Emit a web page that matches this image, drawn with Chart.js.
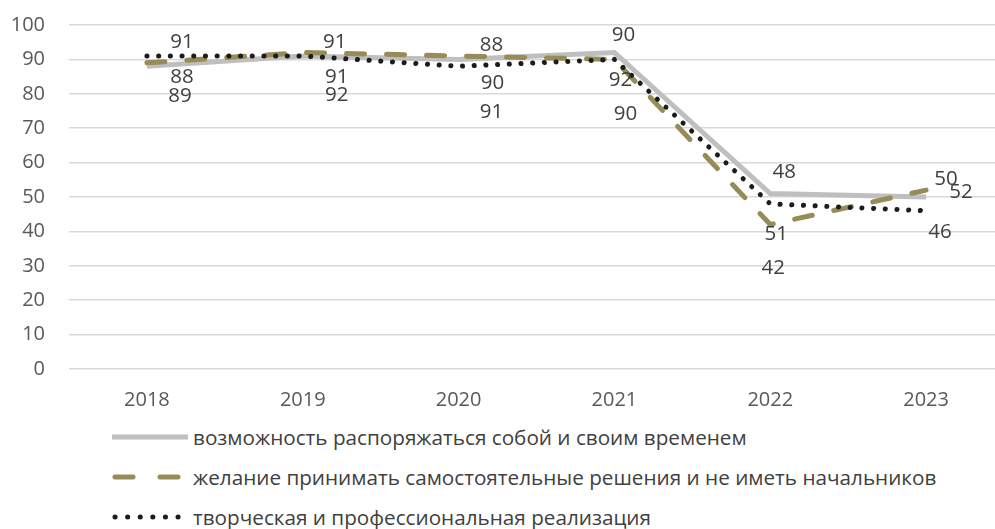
<!DOCTYPE html>
<html lang="ru">
<head>
<meta charset="utf-8">
<script src="https://cdn.jsdelivr.net/npm/chart.js@4"></script>
<style>
  html, body { margin: 0; padding: 0; background: #fff; overflow: hidden; }
  #wrap { position: relative; width: 995px; height: 529px; overflow: hidden; }
  #chart { position: absolute; left: 0; top: 0; }
  .legend-row { position: absolute; left: 112px; height: 30px; display: flex; align-items: center;
    font-family: "Open Sans", sans-serif; font-size: 20.7px; color: #404040; white-space: nowrap; }
  .legend-row svg { width: 76px; height: 10px; margin-right: 5px; }
</style>
</head>
<body>
<div id="wrap">
  <canvas id="chart" width="1010" height="420"></canvas>
  <div class="legend-row" style="top:422px">
    <svg viewBox="0 0 76 10"><line x1="0" y1="5" x2="76" y2="5" stroke="#BFBFBF" stroke-width="5"/></svg>
    <span id="lg0"></span>
  </div>
  <div class="legend-row" style="top:462px">
    <svg viewBox="0 0 76 10"><line x1="3" y1="5" x2="76" y2="5" stroke="#968C58" stroke-width="5" stroke-linecap="round" stroke-dasharray="18 27"/></svg>
    <span id="lg1"></span>
  </div>
  <div class="legend-row" style="top:502px">
    <svg viewBox="0 0 76 10"><line x1="3" y1="5" x2="76" y2="5" stroke="#1C1C1C" stroke-width="5" stroke-linecap="round" stroke-dasharray="0.1 12.5"/></svg>
    <span id="lg2"></span>
  </div>
</div>
<script>
// данные графика
const years = ['2018', '2019', '2020', '2021', '2022', '2023'];
const seriesNames = [
    'возможность распоряжаться собой и своим временем',
    'желание принимать самостоятельные решения и не иметь начальников',
    'творческая и профессиональная реализация'
];
const selfTime = [88, 91, 90, 92, 51, 50];
const independence = [89, 92, 91, 90, 42, 52];
const creative = [91, 91, 88, 90, 48, 46];
const yTicks = [0, 10, 20, 30, 40, 50, 60, 70, 80, 90, 100];

// смещения подписей относительно точек (оформление)
const labelShift = [
    [[35, 11], [34, 21], [34, 24], [6, 28], [6, 41], [20, -18]],
    [[33, 33], [34, 43], [33, 56], [11, 55], [3, 44], [35, 2]],
    [[35, -14], [32, -14], [33, -21], [9, -24], [14, -32], [14, 21]]
];

seriesNames.forEach((name, i) => {
    document.getElementById('lg' + i).textContent = name;
});

// подписи данных
const valueLabels = {
    id: 'valueLabels',
    afterDatasetsDraw(chart) {
        const ctx = chart.ctx;
        ctx.save();
        ctx.font = '20.5px "Open Sans", sans-serif';
        ctx.fillStyle = '#404040';
        ctx.textAlign = 'center';
        ctx.textBaseline = 'middle';
        chart.data.datasets.forEach((ds, i) => {
            const meta = chart.getDatasetMeta(i);
            meta.data.forEach((pt, j) => {
                const off = labelShift[i][j];
                ctx.fillText(String(ds.data[j]), pt.x + off[0], pt.y + off[1]);
            });
        });
        ctx.restore();
    }
};

new Chart(document.getElementById('chart').getContext('2d'), {
    type: 'line',
    data: {
        labels: years,
        datasets: [
            {
                label: seriesNames[0],
                data: selfTime,
                borderColor: '#BFBFBF',
                borderWidth: 5,
                pointRadius: 0,
                tension: 0,
                order: 2
            },
            {
                label: seriesNames[1],
                data: independence,
                borderColor: '#968C58',
                borderWidth: 5,
                borderDash: [18, 22],
                borderCapStyle: 'round',
                pointRadius: 0,
                tension: 0,
                order: 1
            },
            {
                label: seriesNames[2],
                data: creative,
                borderColor: '#1C1C1C',
                borderWidth: 5,
                borderDash: [0.1, 11.6],
                borderCapStyle: 'round',
                pointRadius: 0,
                tension: 0,
                order: 0
            }
        ]
    },
    options: {
        responsive: false,
        animation: false,
        layout: { padding: { top: 25, right: 6, bottom: 0, left: 0 } },
        plugins: {
            legend: { display: false },
            tooltip: { enabled: false }
        },
        scales: {
            x: {
                offset: true,
                grid: { display: false, drawTicks: false },
                border: { display: false },
                ticks: {
                    color: '#595959',
                    font: { family: '"Open Sans", sans-serif', size: 20 },
                    padding: 19,
                    maxRotation: 0
                },
                afterFit(scale) { scale.height = 51; }
            },
            y: {
                min: 0,
                max: 100,
                afterBuildTicks(scale) { scale.ticks = yTicks.map(v => ({ value: v })); },
                grid: { color: '#D9D9D9', lineWidth: 1.5, drawTicks: false },
                border: { display: false },
                ticks: {
                    color: '#595959',
                    font: { family: '"Open Sans", sans-serif', size: 20 },
                    padding: 24
                },
                afterFit(scale) {
                    scale.width = 69;
                    scale.paddingTop = 0;
                    scale.paddingBottom = 0;
                }
            }
        }
    },
    plugins: [valueLabels]
});
</script>
</body>
</html>
